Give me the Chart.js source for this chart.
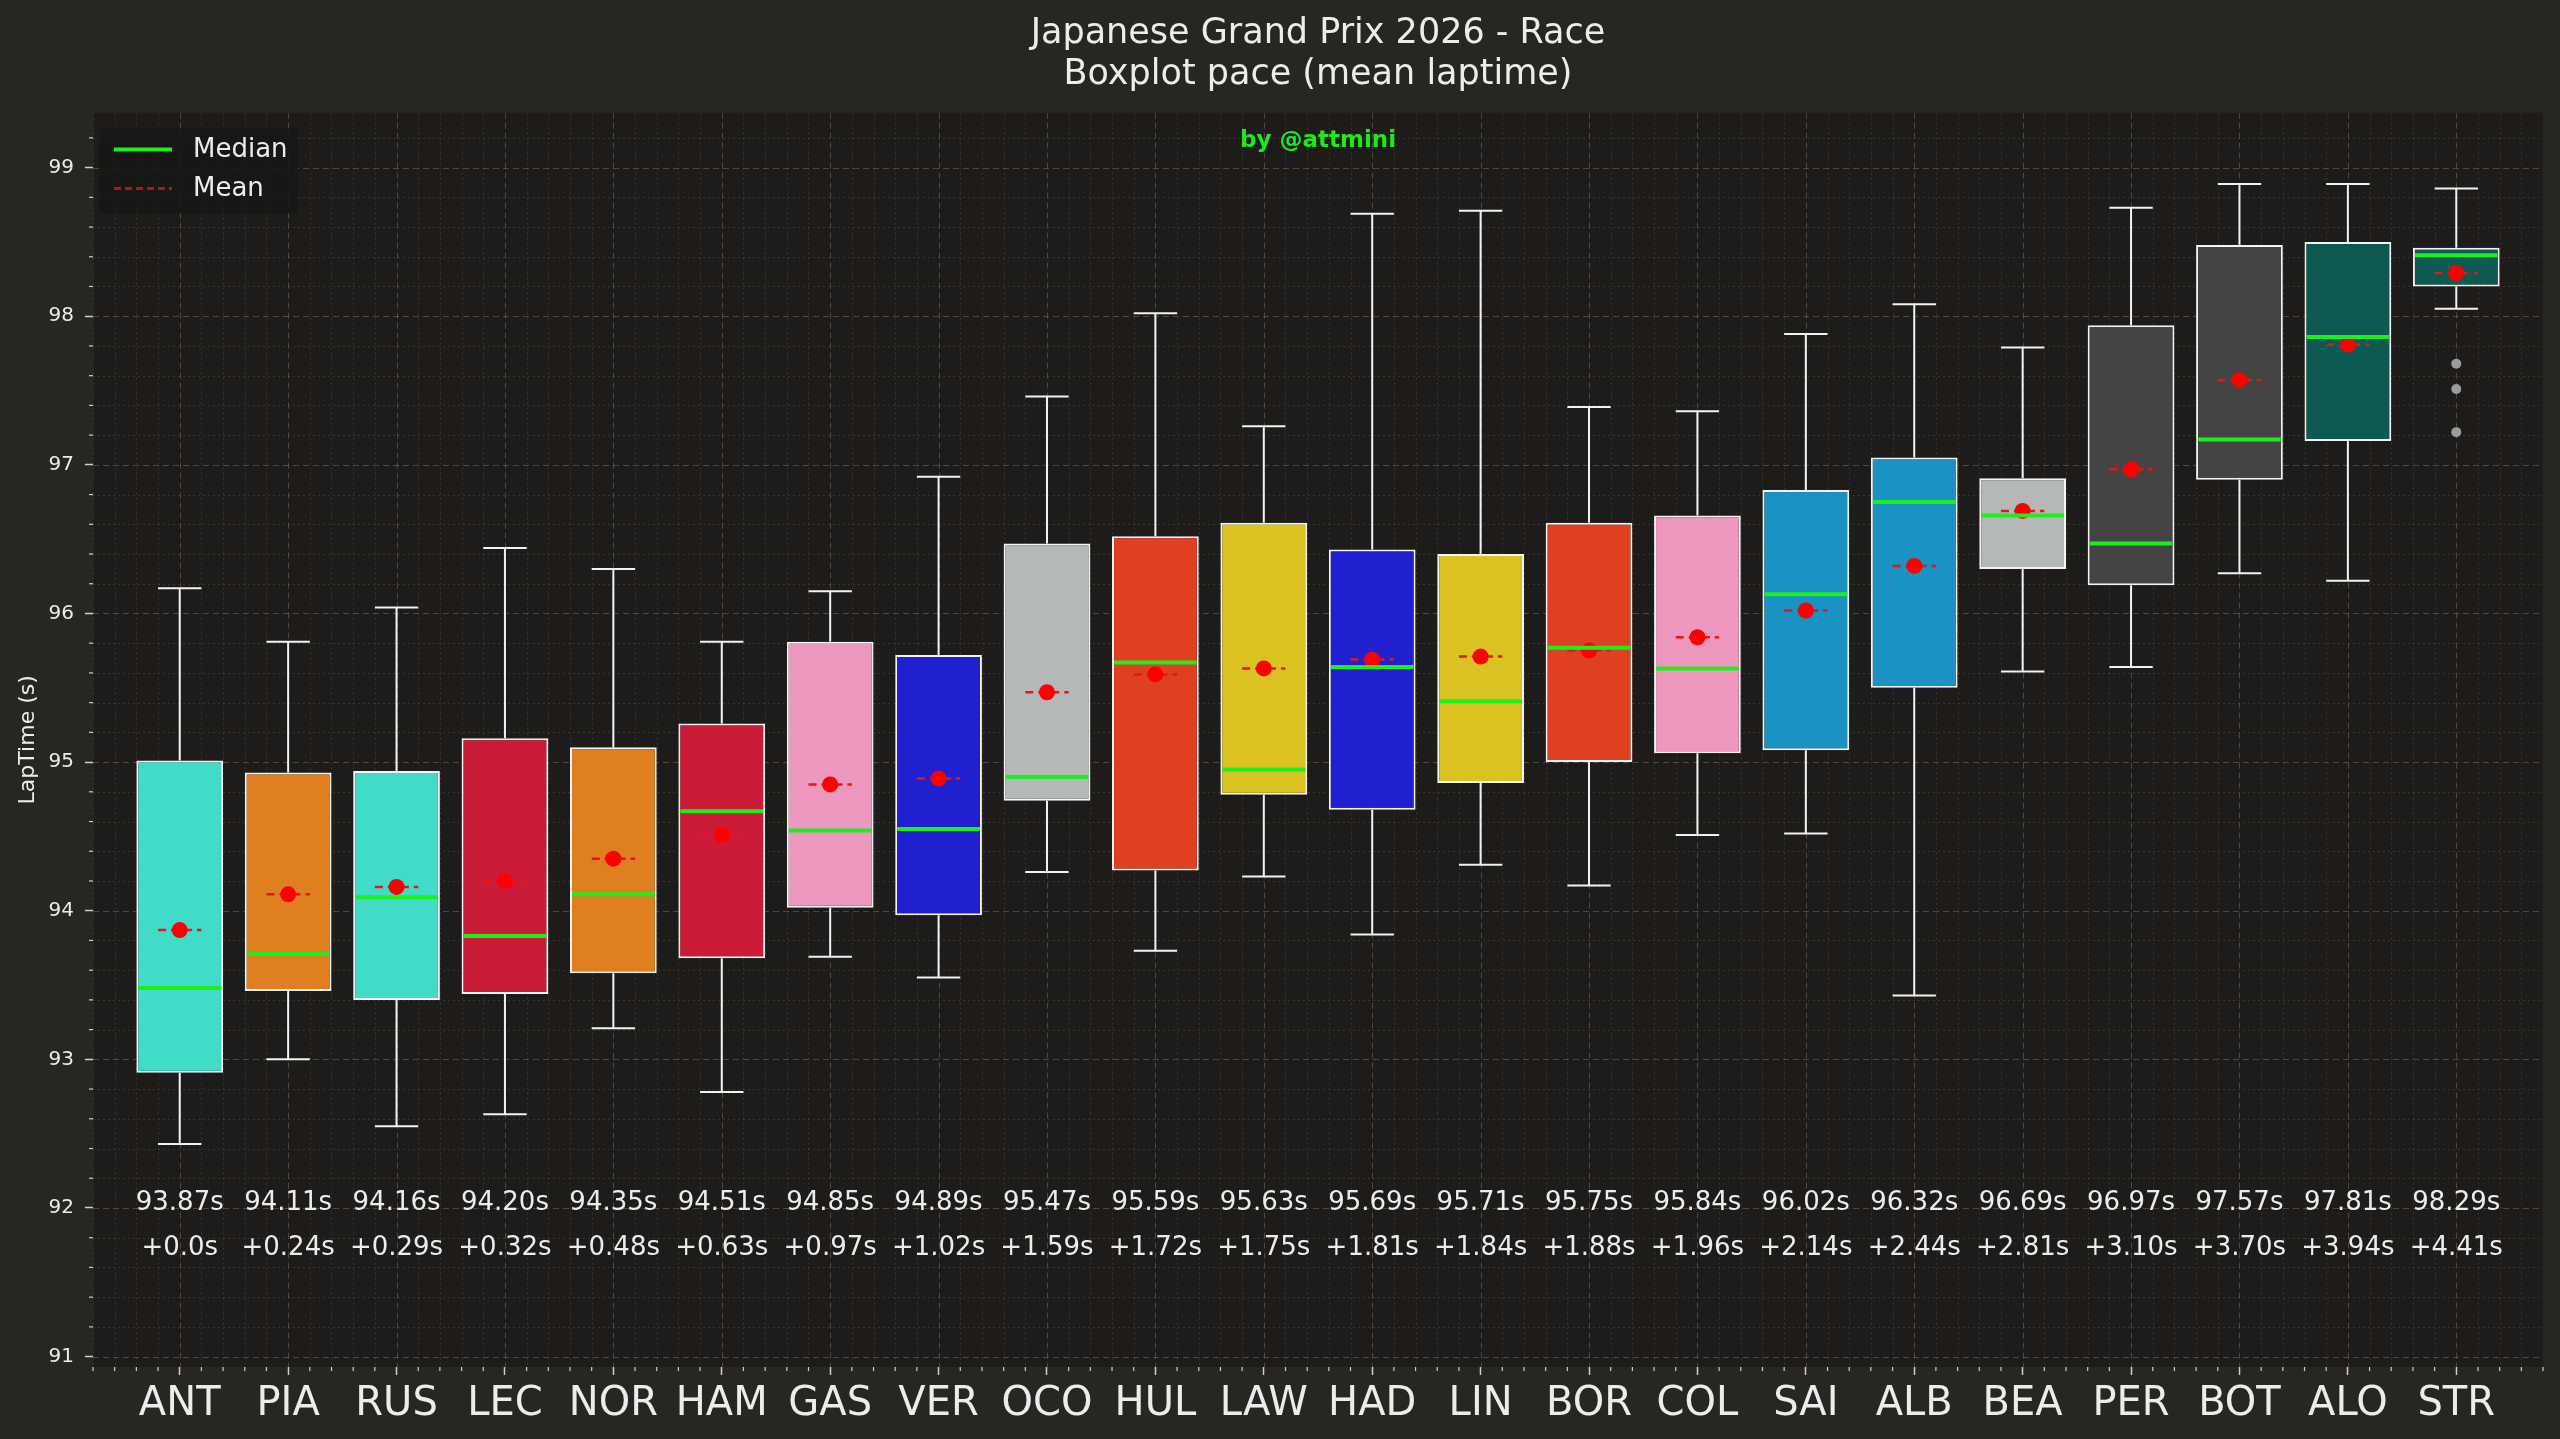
<!DOCTYPE html>
<html>
<head>
<meta charset="utf-8">
<script src="https://cdn.jsdelivr.net/npm/chart.js@4.4.1/dist/chart.umd.min.js"></script>
<style>
html,body{margin:0;padding:0;background:#282622;overflow:hidden}
#wrap{width:2560px;height:1439px;position:relative}
</style>
</head>
<body>
<div id="wrap"><canvas id="c"></canvas></div>
<script>
// ---------------- data ----------------
const drivers = ['ANT','PIA','RUS','LEC','NOR','HAM','GAS','VER','OCO','HUL','LAW','HAD','LIN','BOR','COL','SAI','ALB','BEA','PER','BOT','ALO','STR'];
const teamColors = ['#40DCC7','#E07F20','#40DCC7','#CB1B38','#E07F20','#CB1B38','#EE97BF','#2020D0','#B5B8B9','#DF4120','#DBC223','#2020D0','#DBC223','#DF4120','#EE97BF','#1A92C3','#1A92C3','#B5B8B9','#444444','#444444','#0D5A53','#0D5A53'];
const whiskerLow  = [92.43,93.00,92.55,92.63,93.21,92.78,93.69,93.55,94.26,93.73,94.23,93.84,94.31,94.17,94.51,94.52,93.43,95.61,95.64,96.27,96.22,98.05];
const q1          = [92.91,93.46,93.40,93.44,93.58,93.68,94.02,93.97,94.74,94.27,94.78,94.68,94.86,95.00,95.06,95.08,95.50,96.30,96.19,96.90,97.16,98.20];
const medians     = [93.48,93.71,94.09,93.83,94.11,94.67,94.54,94.55,94.90,95.67,94.95,95.64,95.41,95.77,95.63,96.13,96.75,96.66,96.47,97.17,97.86,98.41];
const q3          = [95.01,94.93,94.94,95.16,95.10,95.26,95.81,95.72,96.47,96.52,96.61,96.43,96.40,96.61,96.66,96.83,97.05,96.91,97.94,98.48,98.50,98.46];
const whiskerHigh = [96.17,95.81,96.04,96.44,96.30,95.81,96.15,96.92,97.46,98.02,97.26,98.69,98.71,97.39,97.36,97.88,98.08,97.79,98.73,98.89,98.89,98.86];
const means       = [93.87,94.11,94.16,94.20,94.35,94.51,94.85,94.89,95.47,95.59,95.63,95.69,95.71,95.75,95.84,96.02,96.32,96.69,96.97,97.57,97.81,98.29];
const gapLabels   = ['+0.0s','+0.24s','+0.29s','+0.32s','+0.48s','+0.63s','+0.97s','+1.02s','+1.59s','+1.72s','+1.75s','+1.81s','+1.84s','+1.88s','+1.96s','+2.14s','+2.44s','+2.81s','+3.10s','+3.70s','+3.94s','+4.41s'];
const outlierDriver = ['STR','STR','STR'];
const outlierValues = [97.68,97.51,97.22];
const yTicks = [91,92,93,94,95,96,97,98,99];
const titleLines = ['Japanese Grand Prix 2026 - Race','Boxplot pace (mean laptime)'];
const yAxisTitle = 'LapTime (s)';
const watermark = 'by @attmini';
const legendLabels = ['Median','Mean'];

// ---------------- style ----------------
const FONT = "'DejaVu Sans', 'Liberation Sans', sans-serif";
const FIG_BG = '#282622';
const AX_BG = '#1e1c1a';
const TEXT = '#ececec';
const MEDIAN_C = '#1cf01c';
const MEAN_C = '#ff0000';
const WHISK_C = '#f2f2f2';
const GRID_MAJOR = 'rgba(150,140,120,0.40)';
const GRID_MINOR = 'rgba(150,140,120,0.22)';

const extras = {
  id: 'boxExtras',
  beforeDraw(chart) {
    const {ctx, chartArea: a} = chart;
    ctx.save();
    ctx.fillStyle = FIG_BG;
    ctx.fillRect(0, 0, chart.width, chart.height);
    ctx.fillStyle = AX_BG;
    ctx.fillRect(a.left, a.top, a.right - a.left, a.bottom - a.top);
    ctx.restore();
  },
  beforeDatasetsDraw(chart) {
    const {ctx, chartArea: a, scales: {x: xs, y: ys}} = chart;
    ctx.save();
    // minor ticks outside
    ctx.strokeStyle = '#cfcfcf';
    ctx.lineWidth = 1.2;
    for (let k = Math.ceil(xs.min * 5); k <= Math.floor(xs.max * 5); k++) {
      if (k % 5 === 0) continue;
      const px = xs.getPixelForValue(k / 5);
      ctx.beginPath(); ctx.moveTo(px, a.bottom); ctx.lineTo(px, a.bottom + 4); ctx.stroke();
    }
    for (let k = Math.ceil(ys.min * 5); k <= Math.floor(ys.max * 5); k++) {
      if (k % 5 === 0) continue;
      const py = ys.getPixelForValue(k / 5);
      ctx.beginPath(); ctx.moveTo(a.left - 4, py); ctx.lineTo(a.left, py); ctx.stroke();
    }
    ctx.beginPath();
    ctx.rect(a.left, a.top, a.right - a.left, a.bottom - a.top);
    ctx.clip();
    // minor grid
    ctx.strokeStyle = GRID_MINOR;
    ctx.lineWidth = 1;
    ctx.setLineDash([2, 3]);
    for (let k = Math.ceil(xs.min * 5); k <= Math.floor(xs.max * 5); k++) {
      if (k % 5 === 0) continue;
      const px = Math.round(xs.getPixelForValue(k / 5)) + 0.5;
      ctx.beginPath(); ctx.moveTo(px, a.top); ctx.lineTo(px, a.bottom); ctx.stroke();
    }
    for (let k = Math.ceil(ys.min * 5); k <= Math.floor(ys.max * 5); k++) {
      if (k % 5 === 0) continue;
      const py = Math.round(ys.getPixelForValue(k / 5)) + 0.5;
      ctx.beginPath(); ctx.moveTo(a.left, py); ctx.lineTo(a.right, py); ctx.stroke();
    }
    // major grid
    ctx.strokeStyle = GRID_MAJOR;
    ctx.setLineDash([6, 4]);
    for (let k = Math.ceil(xs.min); k <= Math.floor(xs.max); k++) {
      const px = Math.round(xs.getPixelForValue(k)) + 0.5;
      ctx.beginPath(); ctx.moveTo(px, a.top); ctx.lineTo(px, a.bottom); ctx.stroke();
    }
    for (let k = Math.ceil(ys.min); k <= Math.floor(ys.max); k++) {
      const py = Math.round(ys.getPixelForValue(k)) + 0.5;
      ctx.beginPath(); ctx.moveTo(a.left, py); ctx.lineTo(a.right, py); ctx.stroke();
    }
    ctx.restore();
  },
  afterDatasetsDraw(chart) {
    const {ctx, chartArea: a, scales: {x: xs, y: ys}} = chart;
    const bars = chart.getDatasetMeta(0).data;
    ctx.save();
    drivers.forEach((d, i) => {
      const px = xs.getPixelForValue(i);
      const bw = bars[i].width;
      const cw = bw / 4;
      // whiskers
      ctx.strokeStyle = WHISK_C;
      ctx.lineWidth = 2;
      ctx.setLineDash([]);
      ctx.beginPath();
      ctx.moveTo(px, ys.getPixelForValue(q1[i])); ctx.lineTo(px, ys.getPixelForValue(whiskerLow[i]));
      ctx.moveTo(px, ys.getPixelForValue(q3[i])); ctx.lineTo(px, ys.getPixelForValue(whiskerHigh[i]));
      ctx.moveTo(px - cw, ys.getPixelForValue(whiskerLow[i])); ctx.lineTo(px + cw, ys.getPixelForValue(whiskerLow[i]));
      ctx.moveTo(px - cw, ys.getPixelForValue(whiskerHigh[i])); ctx.lineTo(px + cw, ys.getPixelForValue(whiskerHigh[i]));
      ctx.stroke();
      // mean dashed line + dot
      const my = ys.getPixelForValue(means[i]);
      ctx.strokeStyle = '#ea1414';
      ctx.lineWidth = 2.5;
      ctx.setLineDash([8, 5]);
      ctx.beginPath(); ctx.moveTo(px - cw, my); ctx.lineTo(px + cw, my); ctx.stroke();
      ctx.setLineDash([]);
      ctx.fillStyle = MEAN_C;
      ctx.beginPath(); ctx.arc(px, my, 8, 0, Math.PI * 2); ctx.fill();
      // median
      const mdy = ys.getPixelForValue(medians[i]);
      ctx.strokeStyle = MEDIAN_C;
      ctx.lineWidth = 4;
      ctx.beginPath(); ctx.moveTo(px - bw / 2 + 2, mdy); ctx.lineTo(px + bw / 2 - 2, mdy); ctx.stroke();
      // labels
      ctx.fillStyle = TEXT;
      ctx.font = '26px ' + FONT;
      ctx.textAlign = 'center';
      ctx.textBaseline = 'middle';
      ctx.fillText(means[i].toFixed(2) + 's', px, ys.getPixelForValue(92.03));
      ctx.fillText(gapLabels[i], px, ys.getPixelForValue(91.73));
    });
    // watermark
    ctx.fillStyle = '#1ee81e';
    ctx.font = 'bold 23px ' + FONT;
    ctx.textAlign = 'center';
    ctx.textBaseline = 'middle';
    ctx.fillText(watermark, (a.left + a.right) / 2, a.top + 28);
    // legend
    const lx = a.left + 6, ly = a.top + 16;
    ctx.fillStyle = 'rgba(22,22,22,0.85)';
    ctx.beginPath();
    if (ctx.roundRect) ctx.roundRect(lx, ly, 199, 85, 4); else ctx.rect(lx, ly, 199, 85);
    ctx.fill();
    ctx.lineWidth = 4;
    ctx.strokeStyle = MEDIAN_C;
    ctx.beginPath(); ctx.moveTo(lx + 15, ly + 21); ctx.lineTo(lx + 73, ly + 21); ctx.stroke();
    ctx.lineWidth = 3;
    ctx.strokeStyle = '#b01818';
    ctx.setLineDash([7, 4]);
    ctx.beginPath(); ctx.moveTo(lx + 15, ly + 60); ctx.lineTo(lx + 73, ly + 60); ctx.stroke();
    ctx.setLineDash([]);
    ctx.fillStyle = TEXT;
    ctx.font = '26px ' + FONT;
    ctx.textAlign = 'left';
    ctx.fillText(legendLabels[0], lx + 94, ly + 22);
    ctx.fillText(legendLabels[1], lx + 94, ly + 61);
    ctx.restore();
  }
};

const ctxEl = document.getElementById('c');
new Chart(ctxEl, {
  type: 'bar',
  data: {
    datasets: [
      {
        type: 'bar',
        label: 'IQR',
        data: drivers.map((d, i) => ({x: i, y: [q1[i], q3[i]]})),
        backgroundColor: teamColors,
        borderColor: '#f4f4f4',
        borderWidth: 2,
        borderSkipped: false,
        barPercentage: 0.8,
        categoryPercentage: 1.0,
        order: 2
      },
      {
        type: 'scatter',
        label: 'Outliers',
        data: outlierDriver.map((d, k) => ({x: drivers.indexOf(d), y: outlierValues[k]})),
        pointRadius: 5,
        pointBackgroundColor: '#9c9c9c',
        pointBorderWidth: 0,
        order: 1
      }
    ]
  },
  options: {
    responsive: true,
    maintainAspectRatio: false,
    animation: false,
    events: [],
    layout: {padding: {left: 0, right: 17, top: 0, bottom: 0}},
    plugins: {
      legend: {display: false},
      tooltip: {enabled: false},
      title: {
        display: true,
        text: titleLines,
        color: TEXT,
        fullSize: false,
        font: {family: FONT, size: 35, weight: 'normal', lineHeight: 1.18},
        padding: {top: 13, bottom: 17}
      }
    },
    scales: {
      x: {
        type: 'linear',
        offset: false,
        min: -0.8,
        max: 21.8,
        afterBuildTicks: s => { s.ticks = drivers.map((d, i) => ({value: i})); },
        afterFit: s => { s.height = 72; },
        grid: {display: true, offset: false, drawOnChartArea: false, drawTicks: true, tickLength: 8, tickColor: '#cfcfcf', tickWidth: 1.5},
        border: {display: false},
        ticks: {
          autoSkip: false, maxRotation: 0, minRotation: 0,
          color: TEXT, padding: 6,
          font: {family: FONT, size: 40},
          callback: v => drivers[Math.round(v)]
        }
      },
      y: {
        type: 'linear',
        min: 90.93,
        max: 99.37,
        afterBuildTicks: s => { s.ticks = yTicks.map(v => ({value: v})); },
        afterFit: s => { s.width = 93; },
        grid: {display: true, drawOnChartArea: false, drawTicks: true, tickLength: 8, tickColor: '#cfcfcf', tickWidth: 1.5},
        border: {display: false},
        ticks: {
          color: TEXT, padding: 11,
          font: {family: FONT, size: 20},
          callback: v => String(v)
        },
        title: {
          display: true, text: yAxisTitle, color: TEXT,
          font: {family: FONT, size: 22},
          padding: {top: 15, bottom: 0}
        }
      }
    }
  },
  plugins: [extras]
});
</script>
</body>
</html>
